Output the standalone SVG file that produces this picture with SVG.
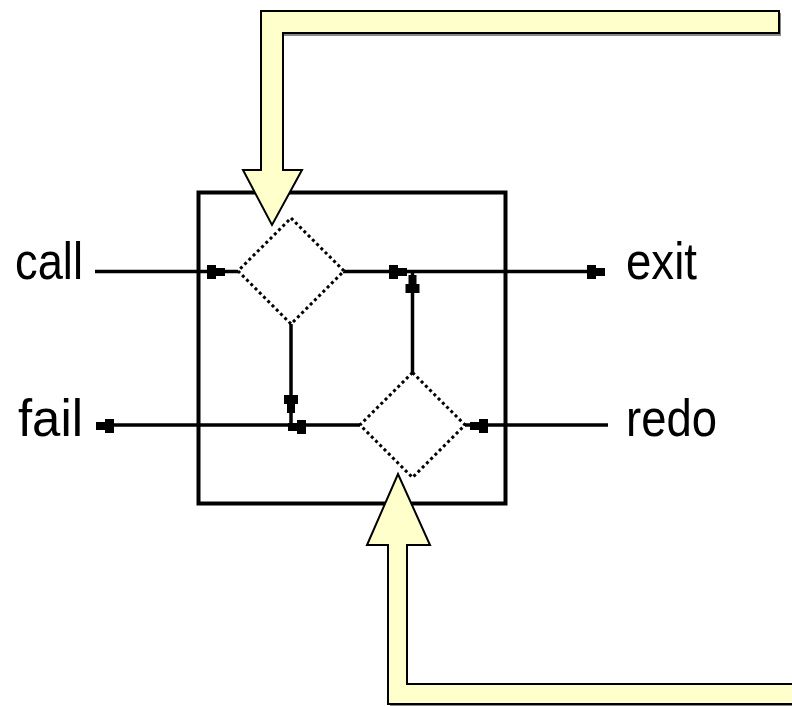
<svg xmlns="http://www.w3.org/2000/svg" xmlns:xlink="http://www.w3.org/1999/xlink" width="792" height="706" viewBox="0 0 792 706">
<style>
.line{stroke:#000;stroke-width:3.5;fill:none}
.box{stroke:#000;stroke-width:4;fill:#fff}
.dia{stroke:#000;stroke-width:3;stroke-dasharray:3 3;fill:#fff}
.fat{fill:#ffffcc;stroke:#000;stroke-width:2;stroke-linejoin:miter}
.shadow{fill:none;stroke:#888;stroke-width:2}
.lbl{font-family:"Liberation Sans",Arial,sans-serif;font-size:52px;fill:#000}
</style>
<defs>
<path id="ah" d="M-18,-7 H-9 V-4 H0 V4 H-9 V7 H-18 Z" fill="#000"/>
</defs>
<rect width="792" height="706" fill="#fff"/>
<g id="box"><rect class="box" x="198.5" y="192.5" width="307" height="311"/></g>
<g id="connectors">
<path class="line" d="M95,271.5 H238"/>
<path class="line" d="M343,271.5 H605"/>
<path class="line" d="M97,425 H360"/>
<path class="line" d="M465,425 H608"/>
<path class="line" d="M291,324 V425"/>
<path class="line" d="M412.5,372 V271"/>
<use xlink:href="#ah" transform="translate(225,272)"/>
<use xlink:href="#ah" transform="translate(407,272)"/>
<use xlink:href="#ah" transform="translate(605,272)"/>
<use xlink:href="#ah" transform="translate(412.5,275) rotate(-90)"/>
<use xlink:href="#ah" transform="translate(291,413) rotate(90)"/>
<use xlink:href="#ah" transform="translate(288,427) rotate(180)"/>
<use xlink:href="#ah" transform="translate(96,426) rotate(180)"/>
<use xlink:href="#ah" transform="translate(470,426) rotate(180)"/>
</g>
<g id="diamond-call"><path class="dia" d="M291,218 L344,271 L291,324 L238,271 Z"/></g>
<g id="diamond-redo"><path class="dia" d="M412.5,372.5 L465,425 L412.5,477.5 L360,425 Z"/></g>
<g id="arrow-top">
<path class="shadow" d="M780,13 V35 H284"/>
<path class="fat" d="M779,11 H261 V170 H243 L272,225 L302,170 H283 V33 H779 Z"/>
</g>
<g id="arrow-bottom">
<path class="shadow" d="M390,706 H800"/>
<path class="fat" d="M800,684 H407 V545 H430 L398,474 L367,545 H388 V704 H800 Z"/>
</g>
<g id="label-call"><text class="lbl" x="15" y="279" textLength="68" lengthAdjust="spacingAndGlyphs">call</text></g>
<g id="label-fail"><text class="lbl" x="18" y="436" textLength="65" lengthAdjust="spacingAndGlyphs">fail</text></g>
<g id="label-exit"><text class="lbl" x="626" y="279" textLength="71" lengthAdjust="spacingAndGlyphs">exit</text></g>
<g id="label-redo"><text class="lbl" x="626" y="436" textLength="91" lengthAdjust="spacingAndGlyphs">redo</text></g>
</svg>
